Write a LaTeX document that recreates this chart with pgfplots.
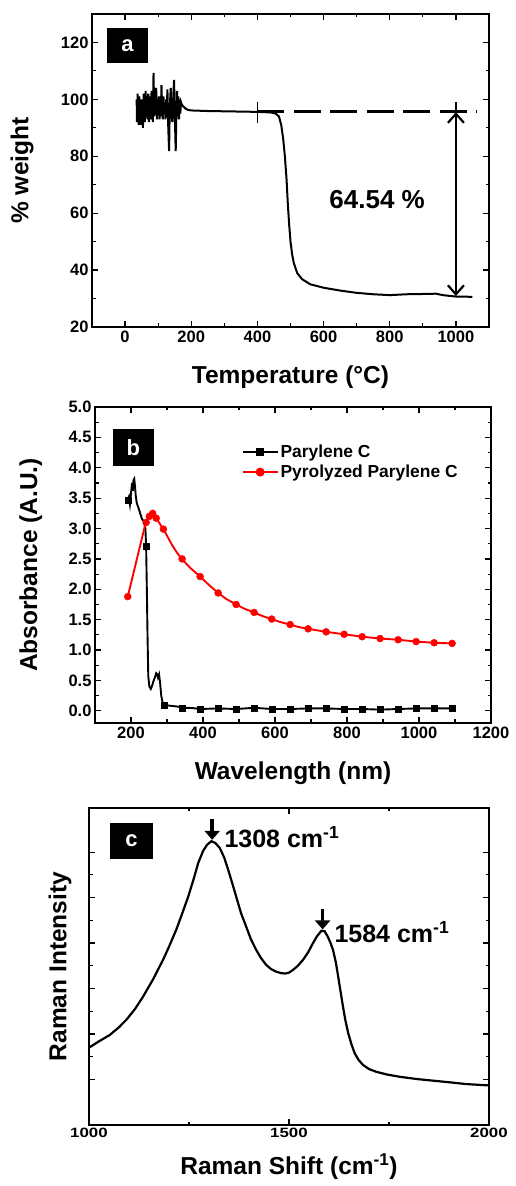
\documentclass[border=0pt]{standalone}
\usepackage{pgfplots}
\pgfplotsset{compat=1.18}
\usepackage{fontspec}
\setmainfont{Liberation Sans}
\newfontfamily\widesans[FakeStretch=1.25]{Liberation Sans}
\usetikzlibrary{arrows.meta}

\pgfplotsset{
  common/.style={
    scale only axis,
    axis line style={line width=1.6pt},
    every tick/.style={line width=1.2pt, black},
    major tick length=6pt, minor tick length=3.5pt,
    tick align=inside,
    xtick pos=both, ytick pos=both,
    minor x tick num=1, minor y tick num=1,
    /pgf/number format/assume math mode=true,
    /pgf/number format/1000 sep={},
    clip=false,
  }
}

\begin{document}
\begin{tikzpicture}
\useasboundingbox (0pt,0pt) rectangle (515pt,1186pt);

% ---------------- Panel a ----------------
\begin{axis}[common,
  at={(92pt,859pt)}, anchor=south west, width=397pt, height=313pt,
  xmin=-100, xmax=1100, ymin=20, ymax=130,
  xtick={0,200,...,1000}, ytick={20,40,...,120},
  tick label style={font=\bfseries\fontsize{16.5}{18}\selectfont},
  xlabel={Temperature (°C)}, ylabel={\% weight},
  label style={font=\bfseries\fontsize{24.5}{28}\selectfont},
  xlabel style={at={(axis description cs:0.5,-0.16)}, anchor=center},
  ylabel style={at={(axis description cs:-0.176,0.5)}, anchor=center},
]
\addplot[black, line width=2pt] coordinates {
(35,100)(36,92)(38,102)(40,94)(41,91)(43,101)(45,93)(47,99)(48,91)(50,100)(52,95)(54,90)(56,102)(58,96)(60,92)(62,103)(64,95)(66,99)(68,93)(70,102)(72,92)(74,98)(76,101)(78,93)(80,103)(82,96)(84,92)(86,109.3)(88,94)(90,100)(92,96)(94,104)(96,93)(98,99)(100,95)(102,101)(104,93)(106,99)(108,94)(110,105)(112,96)(114,93)(116,101)(118,95)(120,99)(122,93)(124,100)(126,96)(128,103.5)(130,92)(133,81.8)(135,97)(138,104)(140,95)(143,92)(145,99)(148,106.8)(150,96)(153,81.8)(155,95)(157,103)(159,94)(161,101)(163,93)(165,100)(167,95)(169,99)(172,98)(176,97.5)(182,96.8)(190,96.3)(200,96.1)(250,95.9)(300,95.8)(350,95.7)(400,95.6)(440,95.4)(455,95.0)(465,94)(472,91)(478,86)(483,80)(488,72)(492,63)(496,56)(500,50)(505,45.5)(510,42.5)(520,39)(535,36.8)(560,35)(600,33.8)(650,32.8)(700,32)(750,31.5)(800,31.2)(850,31.5)(900,31.6)(940,31.7)(960,31.2)(1000,30.7)(1050,30.6)
};
\draw[line width=3pt, dash pattern=on 27pt off 9.5pt] (axis cs:400,95.7) -- (axis cs:1065,95.7);
\draw[line width=1.2pt] (axis cs:400,91.6) -- (axis cs:400,99.2);
\draw[line width=1.2pt] (axis cs:1000,95.7) -- (axis cs:1000,99.2);
\draw[{Straight Barb[length=9pt,width=16pt]}-{Straight Barb[length=9pt,width=16pt]}, line width=2.2pt] (axis cs:1000,95.5) -- (axis cs:1000,30.9);
\node[font=\bfseries\fontsize{26}{29}\selectfont] at (axis cs:762,64.7) {64.54 \%};
\node[fill=black, text=white, font=\bfseries\fontsize{22}{24}\selectfont, minimum width=41pt, minimum height=35pt, inner sep=0pt] at (rel axis cs:0.0895,0.899) {a};
\end{axis}

% ---------------- Panel b ----------------
\begin{axis}[common,
  at={(95pt,463pt)}, anchor=south west, width=396pt, height=316pt,
  xmin=100, xmax=1200, ymin=-0.2, ymax=5.0,
  xtick={200,400,...,1200}, ytick={0,0.5,...,5.0},
  yticklabel style={/pgf/number format/.cd, fixed, fixed zerofill, precision=1},
  tick label style={font=\bfseries\fontsize{16.5}{18}\selectfont},
  xlabel={Wavelength (nm)}, ylabel={Absorbance (A.U.)},
  label style={font=\bfseries\fontsize{24.5}{28}\selectfont},
  xlabel style={at={(axis description cs:0.5,-0.158)}, anchor=center},
  ylabel style={at={(axis description cs:-0.162,0.5)}, anchor=center},
  legend style={at={(0.37,0.887)}, anchor=north west, draw=none, fill=none,
    font=\bfseries\fontsize{17.4}{19}\selectfont, row sep=2pt, inner sep=0pt},
  legend cell align=left,
  legend image code/.code={\draw[mark repeat=2,mark phase=2,#1] plot coordinates {(0pt,0pt) (17.5pt,0pt) (35pt,0pt)};},
]
\addplot[black, line width=1.9pt, forget plot] coordinates {
(191,3.47)(194,3.52)(197,3.40)(200,3.58)(203,3.75)(205,3.62)(207,3.80)(209,3.82)(211,3.70)(213,3.55)(216,3.42)(219,3.37)(223,3.30)(227,3.22)(231,3.15)(236,3.12)(240,3.00)(242,2.71)(244,2.0)(246,1.2)(248,0.57)(251,0.40)(255,0.36)(259,0.42)(263,0.50)(267,0.56)(270,0.62)(273,0.60)(275,0.55)(278,0.60)(281,0.45)(284,0.25)(288,0.13)(293,0.10)(300,0.09)(315,0.08)(330,0.07)(342,0.05)(360,0.05)(380,0.04)(392,0.03)(442,0.04)(492,0.03)(542,0.05)(592,0.03)(642,0.03)(692,0.04)(742,0.04)(792,0.03)(842,0.03)(892,0.02)(942,0.03)(992,0.04)(1042,0.04)(1092,0.04)
};
\addplot[black, only marks, mark=square*, mark size=3pt, forget plot] coordinates {
(191,3.47)(242,2.71)(293,0.10)(342,0.05)(392,0.03)(442,0.04)(492,0.03)(542,0.05)(592,0.03)(642,0.03)(692,0.04)(742,0.04)(792,0.03)(842,0.03)(892,0.02)(942,0.03)(992,0.04)(1042,0.04)(1092,0.04)
};
\addplot[red, line width=1.9pt, forget plot] coordinates {
(191,1.88)(241,3.10)(250,3.20)(257,3.27)(263,3.24)(270,3.17)(278,3.10)(285,3.03)(291,2.99)(300,2.88)(315,2.72)(328,2.60)(341,2.50)(365,2.35)(392,2.21)(415,2.08)(442,1.94)(465,1.84)(492,1.75)(515,1.68)(542,1.62)(565,1.56)(591,1.51)(615,1.46)(642,1.42)(665,1.38)(692,1.35)(742,1.30)(792,1.26)(842,1.22)(892,1.19)(942,1.17)(992,1.14)(1042,1.12)(1092,1.11)
};
\addplot[red, only marks, mark=*, mark size=3.5pt, forget plot] coordinates {
(191,1.88)(242,3.10)(251,3.20)(260,3.25)(270,3.17)(290,2.99)(342,2.50)(392,2.21)(442,1.94)(492,1.75)(542,1.62)(591,1.51)(642,1.42)(692,1.35)(742,1.30)(792,1.26)(842,1.22)(892,1.19)(942,1.17)(992,1.14)(1042,1.12)(1092,1.11)
};
\addlegendimage{black, line width=1.9pt, mark=square*, mark size=3pt}
\addlegendentry{Parylene C}
\addlegendimage{red, line width=1.9pt, mark=*, mark size=3.5pt}
\addlegendentry{Pyrolyzed Parylene C}
\node[fill=black, text=white, font=\bfseries\fontsize{22}{24}\selectfont, minimum width=41pt, minimum height=37pt, inner sep=0pt] at (rel axis cs:0.097,0.872) {b};
\end{axis}

% ---------------- Panel c ----------------
\begin{axis}[common,
  at={(89pt,61pt)}, anchor=south west, width=400pt, height=317pt,
  xmin=1000, xmax=2000, ymin=0, ymax=6.97,
  xtick={1000,1500,2000}, ytick={1,2,...,6}, yticklabels={},
  tick label style={font=\widesans\bfseries\fontsize{13.5}{15}\selectfont},
  xlabel={Raman Shift (cm\textsuperscript{-1})}, ylabel={Raman Intensity},
  label style={font=\bfseries\fontsize{24.5}{28}\selectfont},
  xlabel style={at={(axis description cs:0.5,-0.131)}, anchor=center},
  ylabel style={at={(axis description cs:-0.0725,0.5)}, anchor=center},
]
\addplot[black, line width=2.2pt] coordinates {
(1000,1.70)(1025,1.84)(1052,1.98)(1075,2.15)(1093,2.31)(1115,2.55)(1135,2.82)(1160,3.20)(1185,3.63)(1200,3.92)(1218,4.29)(1233,4.65)(1248,5.02)(1262,5.42)(1273,5.76)(1285,6.02)(1295,6.16)(1306,6.24)(1316,6.20)(1327,6.09)(1338,5.88)(1348,5.61)(1358,5.32)(1368,5.02)(1380,4.66)(1393,4.36)(1405,4.08)(1418,3.85)(1430,3.67)(1443,3.52)(1455,3.43)(1468,3.37)(1480,3.34)(1490,3.33)(1500,3.35)(1510,3.41)(1522,3.50)(1535,3.63)(1548,3.80)(1560,4.00)(1570,4.15)(1581,4.27)(1589,4.26)(1597,4.14)(1604,4.00)(1610,3.85)(1617,3.58)(1623,3.26)(1629,2.93)(1635,2.60)(1641,2.30)(1648,2.02)(1656,1.78)(1664,1.58)(1674,1.43)(1685,1.32)(1700,1.23)(1718,1.17)(1745,1.11)(1777,1.06)(1820,1.01)(1860,0.975)(1900,0.94)(1943,0.90)(2000,0.87)
};
\draw[-{Triangle[length=9pt,width=15pt]}, line width=3.5pt] (axis cs:1308,6.72) -- (axis cs:1308,6.27);
\draw[-{Triangle[length=9pt,width=15pt]}, line width=3.5pt] (axis cs:1584,4.75) -- (axis cs:1584,4.30);
\node[anchor=west, font=\bfseries\fontsize{25}{28}\selectfont] at (axis cs:1330,6.34) {1308 cm\textsuperscript{-1}};
\node[anchor=west, font=\bfseries\fontsize{25}{28}\selectfont] at (axis cs:1605,4.25) {1584 cm\textsuperscript{-1}};
\node[fill=black, text=white, font=\bfseries\fontsize{22}{24}\selectfont, minimum width=43pt, minimum height=36pt, inner sep=0pt] at (rel axis cs:0.106,0.896) {c};
\end{axis}
\end{tikzpicture}
\end{document}
